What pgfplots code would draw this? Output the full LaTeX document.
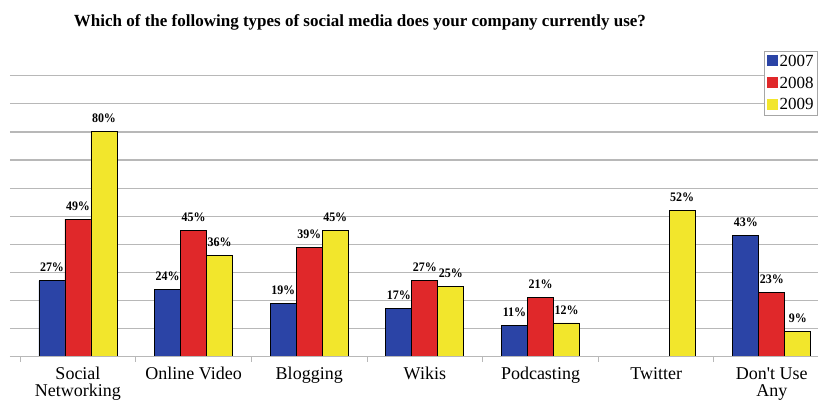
\documentclass[border=0pt]{standalone}
\usepackage{pgfplots}
\pgfplotsset{compat=1.18}
\usepackage{fontspec}
\setmainfont{Liberation Serif}
\newfontfamily\titlefont{Liberation Serif Bold}
\newfontfamily\labfont[FakeStretch=0.92]{Liberation Serif Bold}
\newfontfamily\tickfont{Liberation Serif}
\definecolor{cblue}{HTML}{2B44A6}
\definecolor{cred}{HTML}{E0282A}
\definecolor{cyellow}{HTML}{F2E62C}
\definecolor{cgrid}{HTML}{B8B8B8}
\begin{document}
\begin{tikzpicture}
\begin{axis}[
  scale only axis, width=808pt, height=281pt,
  at={(0,0)}, anchor=south west,
  /pgf/number format/assume math mode=true,
  ybar=0pt, bar width=26pt,
  ymin=0, ymax=100, xmin=-0.588, xmax=6.40,
  axis line style={draw=none},
  ytick={0,10,...,100}, yticklabels={},
  ymajorgrids, major grid style={cgrid, line width=1.2pt},
  y tick style={draw=none},
  xtick={0,1,2,3,4,5,6},
  xticklabels={Social\\Networking, Online Video, Blogging, Wikis, Podcasting, Twitter, Don't Use\\Any},
  x tick label style={font=\tickfont\fontsize{18}{17}\selectfont, align=center, anchor=north, yshift=-3pt},
  major x tick style={draw=none},
  minor xtick={-0.5,0.5,1.5,2.5,3.5,4.5,5.5},
  minor x tick style={cgrid, line width=1pt},
  minor tick length=5pt,
  xtick pos=bottom, tickpos=bottom,
  tick align=outside,
  nodes near coords={\pgfmathprintnumber{\pgfplotspointmeta}\%},
  every node near coord/.append style={font=\labfont\fontsize{13}{13}\selectfont, yshift=5pt, black},
  legend style={at={(rel axis cs:1,1)}, anchor=north east, yshift=25pt,
    draw=gray!70, line width=0.6pt, font=\tickfont\fontsize{17}{17}\selectfont,
    inner sep=2pt, row sep=5pt, cells={anchor=west}},
  legend image code/.code={\draw[#1, draw=none] (0pt,-5pt) rectangle (11pt,6pt);},
  legend cell align=left,
]
\addplot[fill=cblue, draw=black, line width=0.9pt] coordinates {(0,27) (1,24) (2,19) (3,17) (4,11) (6,43)};
\addplot[fill=cred, draw=black, line width=0.9pt] coordinates {(0,49) (1,45) (2,39) (3,27) (4,21) (6,23)};
\addplot[fill=cyellow, draw=black, line width=0.9pt] coordinates {(0,80) (1,36) (2,45) (3,25) (4,12) (5,52) (6,9)};
\draw[cgrid, line width=1.4pt] (rel axis cs:0,0) -- (rel axis cs:1,0);
\legend{2007,2008,2009}
\end{axis}
\node[font=\titlefont\fontsize{17}{17}\selectfont] at (350pt,334pt) {Which of the following types of social media does your company currently use?};
\pgfresetboundingbox
\path (-10pt,-59.3pt) rectangle (808pt,356.7pt);
\end{tikzpicture}
\end{document}
